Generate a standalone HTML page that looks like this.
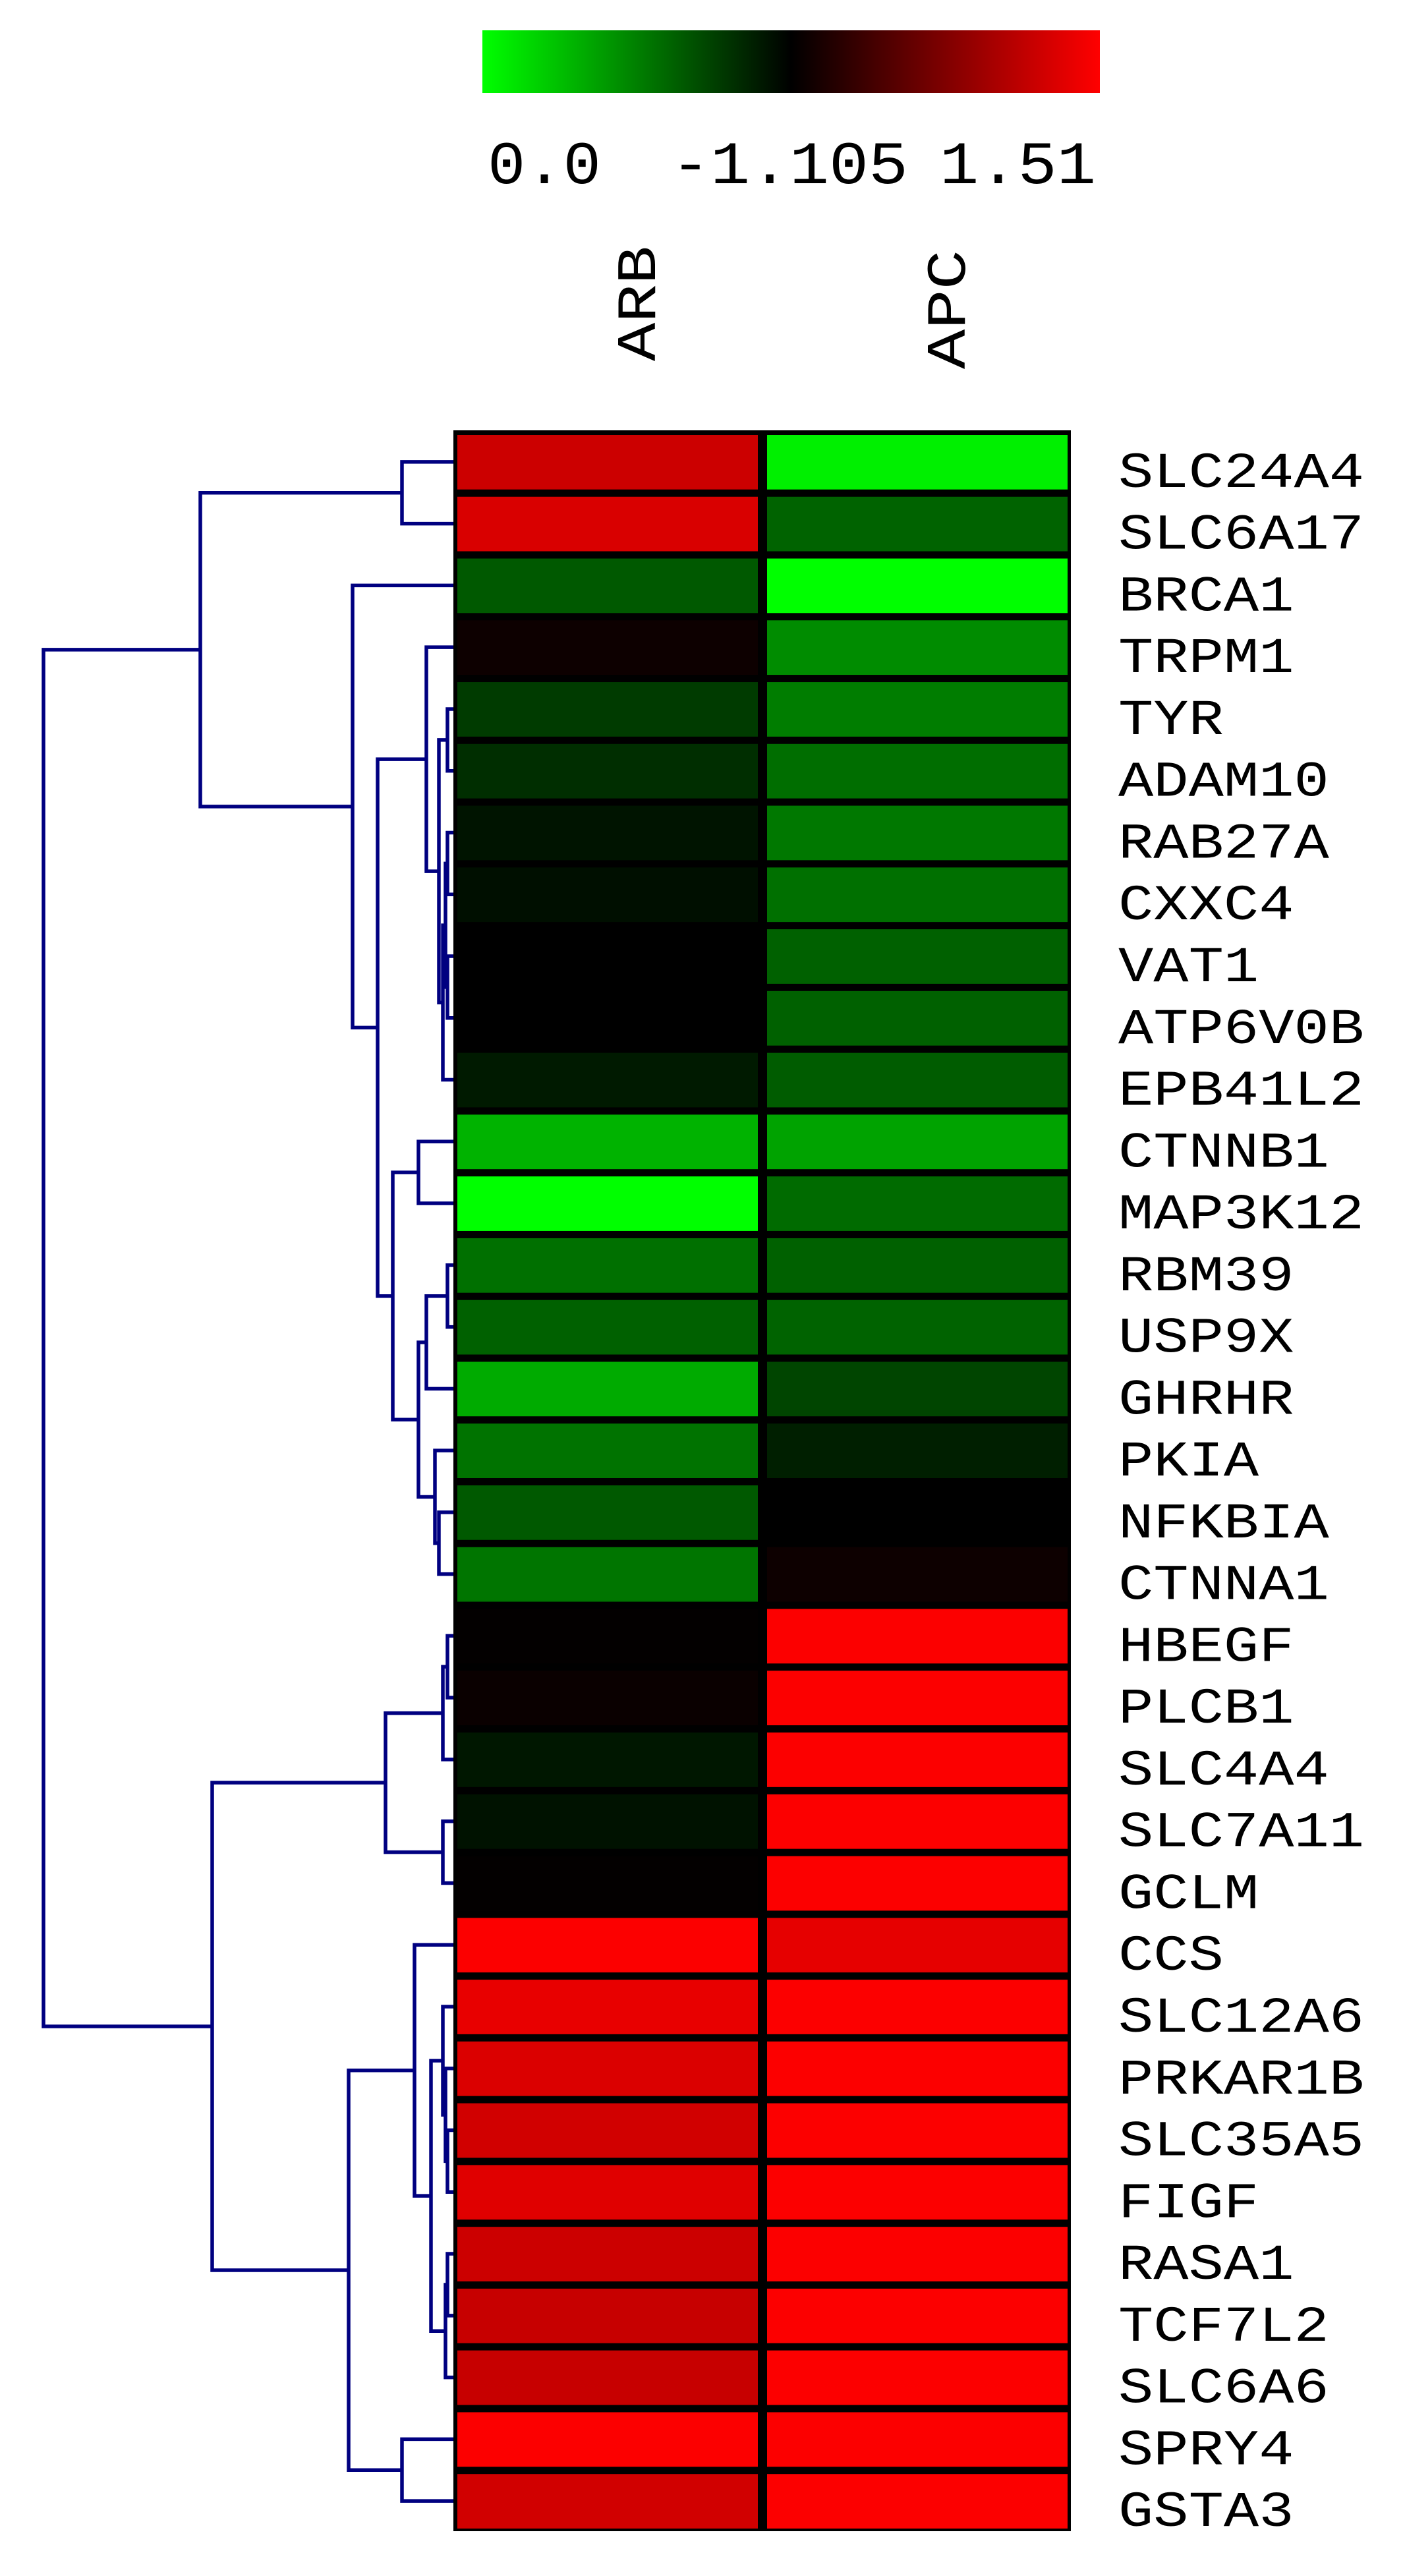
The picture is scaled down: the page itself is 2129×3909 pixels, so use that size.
<!DOCTYPE html>
<html><head><meta charset="utf-8"><style>
html,body{margin:0;padding:0;background:#fff;}
svg{display:block;}
text{font-family:"Liberation Mono","DejaVu Sans Mono",monospace;fill:#000;}
</style></head><body>
<svg id="chart" width="2129" height="3909" viewBox="0 0 2129 3909" xmlns="http://www.w3.org/2000/svg">
<defs><linearGradient id="cg" x1="0" x2="1" y1="0" y2="0"><stop offset="0" stop-color="#00ff00"/><stop offset="0.5" stop-color="#000000"/><stop offset="1" stop-color="#ff0000"/></linearGradient></defs>
<rect x="732" y="46" width="937" height="95" fill="url(#cg)"/>
<text x="740" y="278" font-size="92" textLength="172" lengthAdjust="spacingAndGlyphs">0.0</text>
<text x="1018" y="278" font-size="92" textLength="360" lengthAdjust="spacingAndGlyphs">-1.105</text>
<text x="1426" y="278" font-size="92" textLength="237" lengthAdjust="spacingAndGlyphs">1.51</text>
<text transform="translate(994,548) rotate(-90)" font-size="84" textLength="175" lengthAdjust="spacingAndGlyphs">ARB</text>
<text transform="translate(1464,560) rotate(-90)" font-size="84" textLength="181" lengthAdjust="spacingAndGlyphs">APC</text>
<g id="heat"></g>
<g id="dendro"></g>
<g id="labels"></g>
</svg>
<script>
const genes=["SLC24A4","SLC6A17","BRCA1","TRPM1","TYR","ADAM10","RAB27A","CXXC4","VAT1","ATP6V0B","EPB41L2","CTNNB1","MAP3K12","RBM39","USP9X","GHRHR","PKIA","NFKBIA","CTNNA1","HBEGF","PLCB1","SLC4A4","SLC7A11","GCLM","CCS","SLC12A6","PRKAR1B","SLC35A5","FIGF","RASA1","TCF7L2","SLC6A6","SPRY4","GSTA3"];
const conditions=["ARB","APC"];
const arbValues=[0.8,0.85,-0.35,0.05,-0.23,-0.18,-0.08,-0.06,0,0,-0.1,-0.7,-1,-0.44,-0.38,-0.67,-0.45,-0.35,-0.46,0.01,0.04,-0.09,-0.07,0.01,0.99,0.91,0.86,0.82,0.88,0.8,0.78,0.78,0.99,0.82];
const apcValues=[-0.94,-0.39,-1,-0.55,-0.49,-0.43,-0.47,-0.44,-0.38,-0.38,-0.36,-0.64,-0.42,-0.38,-0.39,-0.27,-0.12,0,0.05,0.99,0.99,0.99,0.99,0.99,0.9,0.99,0.99,0.99,0.99,0.99,0.99,0.99,0.99,0.99];
// dendrogram merges: [childA, childB, height]; numbers = leaf index, "nK" = merge K
const merges=[
[0,1,610],[4,5,679],[6,7,679],[8,9,679],["n2","n3",676],["n4",10,672],["n1","n5",666],[3,"n6",647],
[11,12,635],[13,14,679],["n9",15,647],[17,18,666],[16,"n11",660],["n10","n12",635],["n8","n13",596],["n7","n14",573],[2,"n15",535],["n0","n16",304],
[19,20,679],["n18",21,672],[22,23,672],["n19","n20",585],
[27,28,679],[26,"n22",676],[25,"n23",672],[29,30,679],["n25",31,676],["n24","n26",654],[24,"n27",629],[32,33,610],["n28","n29",529],["n21","n30",322],["n17","n31",66]
];
const NS="http://www.w3.org/2000/svg";
const top0=653,bottom0=3841,left0=688,right0=1625;
const pitch=(bottom0-top0)/genes.length;
function yRow(i){return top0+pitch*i+pitch/2+1;}
function colX(c){return c===0?694:1164;}
function color(v){v=Math.max(-1,Math.min(1,v));const c=Math.round(Math.abs(v)*255);return v>=0?`rgb(${c},0,0)`:`rgb(0,${c},0)`;}
const heat=document.getElementById('heat');
const bg=document.createElementNS(NS,'rect');
bg.setAttribute('x',left0);bg.setAttribute('y',top0);bg.setAttribute('width',right0-left0);bg.setAttribute('height',bottom0-top0);bg.setAttribute('fill','#000');


heat.appendChild(bg);
const series=[arbValues,apcValues];
series.forEach((vals,c)=>{vals.forEach((v,i)=>{
 const r=document.createElementNS(NS,'rect');
 r.setAttribute('x',colX(c));r.setAttribute('y',top0+pitch*i+7);r.setAttribute('width',456);r.setAttribute('height',pitch-11);r.setAttribute('fill',color(v));
 
 
 heat.appendChild(r);
});});
const labels=document.getElementById('labels');
genes.forEach((g,i)=>{
 const t=document.createElementNS(NS,'text');
 t.setAttribute('x',1697);t.setAttribute('y',yRow(i)+38);t.setAttribute('font-size',76);
 t.setAttribute('textLength',g.length*53.3);t.setAttribute('lengthAdjust','spacingAndGlyphs');
 t.textContent=g;
 
 
 labels.appendChild(t);
});
const dendro=document.getElementById('dendro');
const nodes=[];
function pos(ch){if(typeof ch==='number')return {x:left0,y:yRow(ch)};return nodes[parseInt(ch.slice(1))];}
let d='';
merges.forEach((m)=>{
 const a=pos(m[0]),b=pos(m[1]),h=m[2];
 d+=`M${a.x} ${a.y}H${h}V${b.y}H${b.x}`;
 nodes.push({x:h,y:(a.y+b.y)/2});
});
const p=document.createElementNS(NS,'path');
p.setAttribute('d',d);p.setAttribute('fill','none');p.setAttribute('stroke','#000080');p.setAttribute('stroke-width','5.5');


dendro.appendChild(p);
</script>
</body></html>
